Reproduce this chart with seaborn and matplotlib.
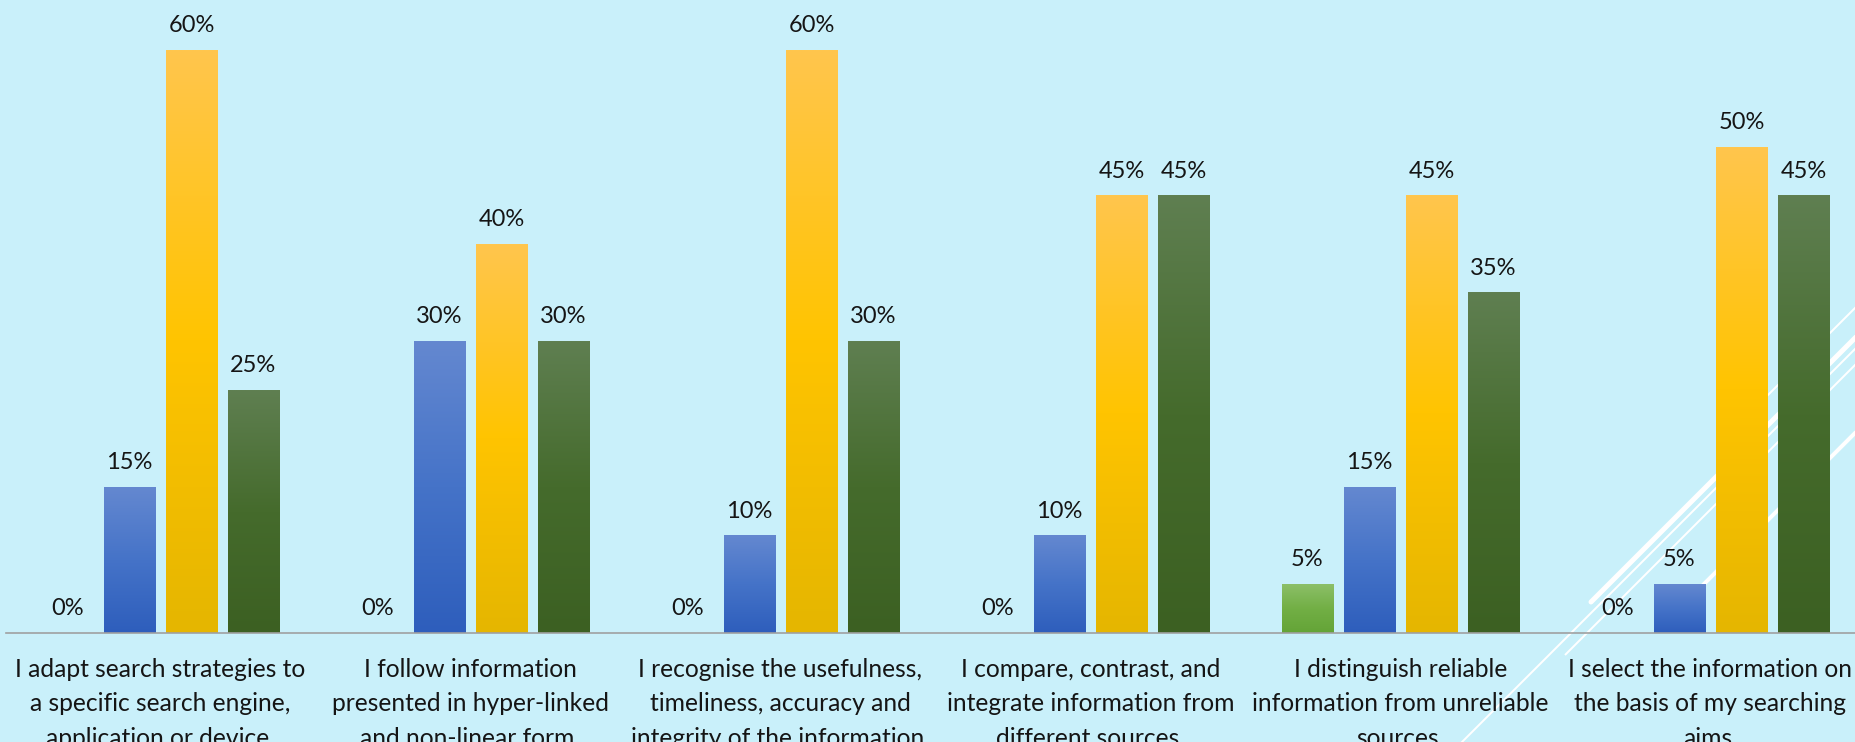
import numpy as np
import pandas as pd
import matplotlib
matplotlib.use("Agg")
import matplotlib.pyplot as plt
from matplotlib.colors import to_rgb
from matplotlib.lines import Line2D
import seaborn as sns

# ---- data ----
statements = [
    "I adapt search strategies to\na specific search engine,\napplication or device.",
    "I follow information\npresented in hyper-linked\nand non-linear form.",
    "I recognise the usefulness,\ntimeliness, accuracy and\nintegrity of the information.",
    "I compare, contrast, and\nintegrate information from\ndifferent sources.",
    "I distinguish reliable\ninformation from unreliable\nsources.",
    "I select the information on\nthe basis of my searching\naims.",
]
levels = ["Level 1", "Level 2", "Level 3", "Level 4"]
level1 = [0, 0, 0, 0, 5, 0]
level2 = [15, 30, 10, 10, 15, 5]
level3 = [60, 40, 60, 45, 45, 50]
level4 = [25, 30, 30, 45, 35, 45]

# gradient stops per series: top, middle, bottom
gradients = {
    "Level 1": ["#8CBF68", "#72AF45", "#64A437"],
    "Level 2": ["#6488D0", "#4573C8", "#2E5EBC"],
    "Level 3": ["#FFC64D", "#FFC400", "#E5B600"],
    "Level 4": ["#5F7F51", "#456B2C", "#3C6022"],
}
bg = "#C9F0FA"

df = pd.DataFrame({
    "statement": np.repeat(statements, len(levels)),
    "level": levels * len(statements),
    "value": np.array([level1, level2, level3, level4]).T.ravel(),
})

sns.set_style("white")
plt.rcParams["font.family"] = ["Lato", "DejaVu Sans"]

W, H = 1856, 742
fig = plt.figure(figsize=(W / 100, H / 100), dpi=100, facecolor=bg)

# white slide decoration: diagonal strokes (pixel coords, y from top)
def stroke(c, x0, width, round_cap=False):
    x1 = W + 40
    xs = np.array([x0, x1]) / W
    ys = 1 - (c - np.array([x0, x1])) / H
    fig.add_artist(Line2D(xs, ys, transform=fig.transFigure, color="white",
                          lw=width * 0.72, zorder=-5,
                          solid_capstyle="round" if round_cap else "butt"))

stroke(2193, 1591, 5, round_cap=True)
stroke(2204, 1440, 2)
stroke(2220, 1565, 2)
stroke(2163, 1740, 2)
stroke(2288, 1680, 4)

ax = fig.add_axes([5.5 / W, (H - 632.7) / H, 1860 / W, 632.7 / H])
ax.patch.set_alpha(0)

palette = {k: v[1] for k, v in gradients.items()}
sns.barplot(data=df, x="statement", y="value", hue="level", hue_order=levels,
            palette=palette, width=0.8, gap=0.177, legend=False, ax=ax,
            err_kws={"linewidth": 0})

# replace flat fills with vertical gradients
for level, container in zip(levels, ax.containers):
    stops = np.array([to_rgb(c) for c in gradients[level]])
    t = np.linspace(0, 1, 200)
    col = np.stack([np.interp(t, [0, 0.5, 1], stops[:, i]) for i in range(3)], axis=-1)
    img = col[:, None, :]
    for bar in container:
        h = bar.get_height()
        bar.set_visible(False)
        if h <= 0:
            continue
        x = bar.get_x()
        w = bar.get_width()
        ax.imshow(img, extent=[x, x + w, 0, h], origin="upper", aspect="auto",
                  interpolation="bilinear", zorder=2)
    ax.bar_label(container, labels=[f"{v:g}%" for v in container.datavalues],
                 padding=10, fontsize=17, color="#151515")

ax.set_xlim(-0.5, 5.5)
ax.set_ylim(0, 65.12)
ax.set_xlabel("")
ax.set_ylabel("")
ax.set_yticks([])
ax.set_xticks(range(len(statements)))
ax.set_xticklabels(statements, fontsize=17.7, color="#151515", linespacing=1.62)
ax.tick_params(axis="x", length=0, pad=18)
for side in ["left", "right", "top"]:
    ax.spines[side].set_visible(False)
ax.spines["bottom"].set_color("#A0A0A0")
ax.spines["bottom"].set_linewidth(1.2)

fig.savefig("out.png", dpi=100, facecolor=bg)
